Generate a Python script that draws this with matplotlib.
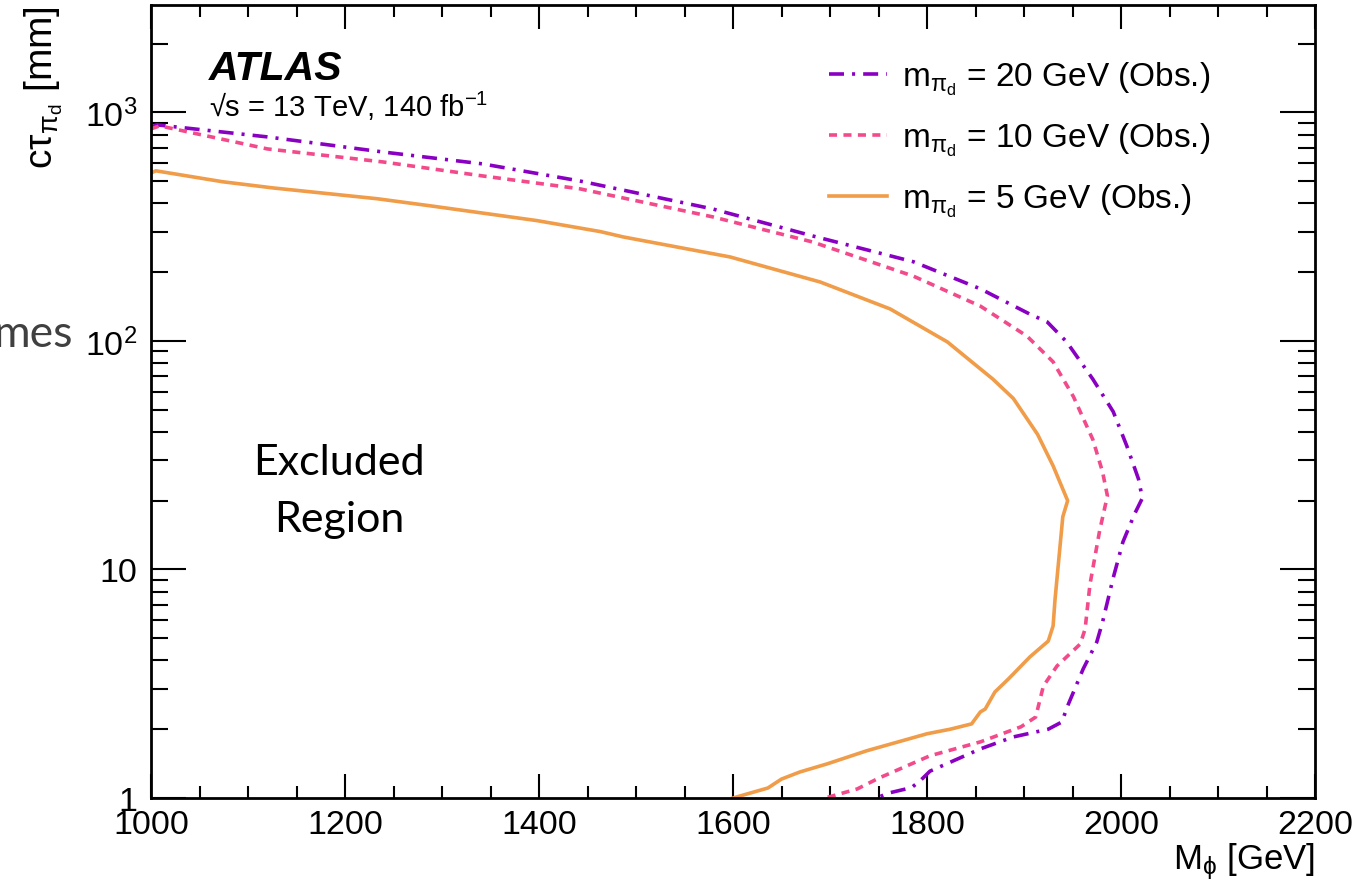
import numpy as np
import matplotlib
matplotlib.use("Agg")
import matplotlib.pyplot as plt
from matplotlib.ticker import FixedLocator, FixedFormatter, LogLocator, MultipleLocator, NullFormatter

# observed exclusion contours (M_phi [GeV], c*tau [mm])
m5_x = [1000, 1005, 1074, 1126, 1233, 1288, 1398, 1463, 1487, 1597, 1690, 1762, 1821,
        1868, 1889, 1914, 1930, 1945, 1940, 1932, 1930, 1925, 1906, 1889, 1884, 1870,
        1860, 1855, 1846, 1824, 1800, 1738, 1697, 1669, 1650, 1636, 1600]
m5_y = [543, 555, 497, 467, 419, 390, 336, 301, 285, 233, 181, 138, 99,
        68, 56, 39, 28.4, 20, 17, 7.4, 5.66, 4.86, 4.14, 3.49, 3.32, 2.91,
        2.45, 2.38, 2.11, 2.00, 1.91, 1.61, 1.41, 1.30, 1.21, 1.106, 1.0]

m10_x = [1000, 1009, 1120, 1239, 1342, 1442, 1579, 1682, 1786, 1855, 1903, 1930, 1951,
         1971, 1981, 1986, 1978, 1968, 1963, 1958, 1934, 1920, 1912, 1897, 1855, 1803,
         1750, 1728, 1695]
m10_y = [847, 873, 692, 607, 527, 463, 349, 271, 192, 142, 105, 81, 57,
         37, 26.7, 21, 14.8, 8.6, 5.49, 4.72, 3.78, 3.09, 2.26, 2.05, 1.76, 1.53,
         1.22, 1.095, 1.0]

m20_x = [1000, 1006, 1120, 1239, 1342, 1442, 1579, 1682, 1786, 1855, 1906, 1924, 1944,
         1971, 1992, 2006, 2018, 2022, 2014, 2002, 1992, 1981, 1975, 1961, 1945, 1939,
         1925, 1889, 1855, 1803, 1793, 1784, 1760, 1748]
m20_y = [864, 882, 781, 671, 595, 501, 378, 288, 222, 169, 131, 121, 99,
         68, 49, 34.7, 24.9, 20.5, 17.5, 13.2, 9.2, 5.89, 4.81, 3.67, 2.53, 2.15,
         2.00, 1.85, 1.64, 1.31, 1.19, 1.11, 1.05, 1.0]

labels = [r"$\mathrm{m_{\pi_{d}}}$ = 20 GeV (Obs.)",
          r"$\mathrm{m_{\pi_{d}}}$ = 10 GeV (Obs.)",
          r"$\mathrm{m_{\pi_{d}}}$ = 5 GeV (Obs.)"]

plt.rcParams["font.family"] = ["Liberation Sans", "DejaVu Sans"]
plt.rcParams["mathtext.fontset"] = "custom"
plt.rcParams["mathtext.rm"] = "Liberation Sans"
plt.rcParams["mathtext.it"] = "Liberation Sans:italic"
plt.rcParams["mathtext.bf"] = "Liberation Sans:bold"
plt.rcParams["lines.scale_dashes"] = False

W, H = 1354, 887
fig = plt.figure(figsize=(W / 100, H / 100), dpi=100)
ax = fig.add_axes([151 / W, (H - 799) / H, 1164 / W, 793 / H])

lw = 2.6
l20, = ax.plot(m20_x, m20_y, color="#8A00C2", lw=lw, linestyle=(0, (10.8, 5.8, 2.2, 5.8)))
l10, = ax.plot(m10_x, m10_y, color="#F24A8A", lw=lw, linestyle=(0, (5.8, 4.6)))
l5, = ax.plot(m5_x, m5_y, color="#F09C48", lw=lw, linestyle="-")

ax.set_yscale("log")
ax.set_xlim(1000, 2200)
ax.set_ylim(1, 2950)

ax.xaxis.set_major_locator(MultipleLocator(200))
ax.xaxis.set_minor_locator(MultipleLocator(50))
ax.yaxis.set_major_locator(FixedLocator([1, 10, 100, 1000]))
ax.yaxis.set_major_formatter(FixedFormatter(["1", "10", r"$10^{2}$", r"$10^{3}$"]))
ax.yaxis.set_minor_locator(LogLocator(base=10, subs=np.arange(2, 10)))
ax.yaxis.set_minor_formatter(NullFormatter())

for s in ax.spines.values():
    s.set_linewidth(2.0)
ax.tick_params(axis="both", which="both", direction="in", top=True, right=True,
               labelsize=24.5, width=1.5)
ax.tick_params(axis="x", which="major", length=17, pad=8)
ax.tick_params(axis="x", which="minor", length=8.5)
ax.tick_params(axis="y", which="major", length=25, pad=10)
ax.tick_params(axis="y", which="minor", length=12.5)

ax.set_xlabel(r"M$_{\mathrm{\phi}}$ [GeV]", fontsize=25, loc="right", labelpad=0)
ax.set_ylabel(r"c$\mathrm{\tau_{\pi_{d}}}$ [mm]", fontsize=28, loc="top", labelpad=14)

leg = ax.legend([l20, l10, l5], labels, loc="upper left", bbox_to_anchor=(0.571, 0.948),
                frameon=False, fontsize=24, handlelength=1.75, handletextpad=0.45,
                labelspacing=0.72, borderaxespad=0)

fig.text(209 / W, 1 - 80 / H, "ATLAS", fontsize=29.5, fontweight="bold", fontstyle="italic")
fig.text(209 / W, 1 - 117 / H, "\u221as = 13 TeV, 140 fb$^{\\mathrm{-1}}$", fontsize=21)

fig.text(339 / W, 1 - 475 / H, "Excluded", fontsize=31, family="Lato", ha="center", va="baseline")
fig.text(339 / W, 1 - 532 / H, "Region", fontsize=31, family="Lato", ha="center", va="baseline")
fig.text(73 / W, 1 - 347 / H, "mes", fontsize=32, family="Lato", color="#404040",
         ha="right", va="baseline")

fig.savefig("out.png", dpi=100)
